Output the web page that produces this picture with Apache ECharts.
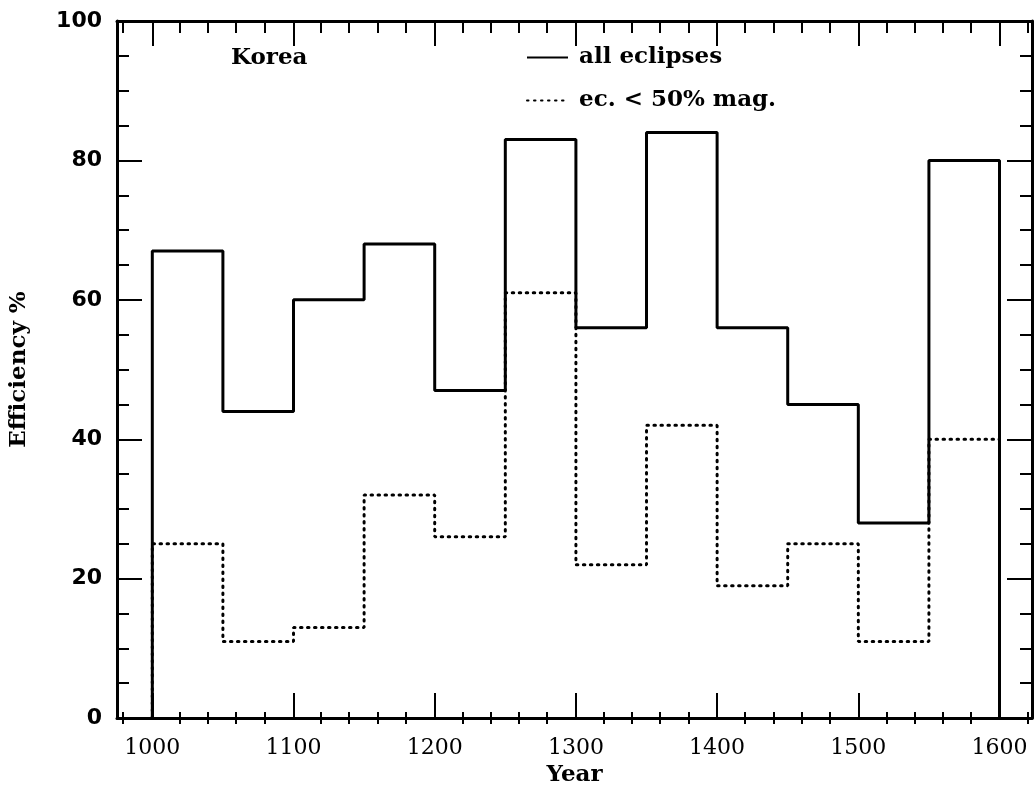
<!DOCTYPE html>
<html>
<head>
<meta charset="utf-8">
<script src="https://cdn.jsdelivr.net/npm/echarts@6/dist/echarts.min.js"></script>
<style>
html,body{margin:0;padding:0;background:#fff;}
#chart{width:1036px;height:792px;}
</style>
</head>
<body>
<div id="chart"></div>
<script>
// Bin starts (years), bin width 50
var binStarts = [1000, 1050, 1100, 1150, 1200, 1250, 1300, 1350, 1400, 1450, 1500, 1550];
var binWidth = 50;
var allEclipses = [67, 44, 60, 68, 47, 83, 56, 84, 56, 45, 28, 80];
var lowMag = [25, 11, 13, 32, 26, 61, 22, 42, 19, 25, 11, 40];
var xMajorTicks = [1000, 1100, 1200, 1300, 1400, 1500, 1600];
var xMinorTicks = [980, 1020, 1040, 1060, 1080, 1120, 1140, 1160, 1180, 1220, 1240, 1260, 1280,
                   1320, 1340, 1360, 1380, 1420, 1440, 1460, 1480, 1520, 1540, 1560, 1580, 1620];
var seriesNames = ['all eclipses', 'ec. < 50% mag.'];

function stepData(vals) {
  var d = [[binStarts[0], 0]];
  for (var i = 0; i < binStarts.length; i++) d.push([binStarts[i], vals[i]]);
  var lastEnd = binStarts[binStarts.length - 1] + binWidth;
  d.push([lastEnd, vals[vals.length - 1]]);
  d.push([lastEnd, 0]);
  return d;
}

var chart = echarts.init(document.getElementById('chart'));
var gridRect = {left: 116, top: 21, width: 916, height: 703};
var XMIN = 975, XMAX = 1623;
var lineW = 3;
var serif = 'DejaVu Serif';
var sans = 'DejaVu Sans';

function xAx(gridIndex, pos, ticks, len, labels, showLine) {
  return {
    type: 'value', gridIndex: gridIndex, position: pos, min: XMIN, max: XMAX,
    axisLine: {show: showLine, onZero: false, lineStyle: {color: '#000', width: lineW}},
    axisTick: {show: true, inside: true, length: len, customValues: ticks, lineStyle: {color: '#000', width: 2}},
    axisLabel: labels ? {
      show: true, customValues: xMajorTicks, color: '#000', fontFamily: serif, fontSize: 22, margin: 19,
      formatter: function (v) { return String(v); }
    } : {show: false},
    splitLine: {show: false}
  };
}

var option = {
  animation: false,
  backgroundColor: '#fff',
  title: {
    text: 'Korea', left: 226, top: 42,
    textStyle: {fontFamily: serif, fontSize: 23, fontWeight: 'bold', color: '#000'}
  },
  legend: {
    orient: 'vertical', left: 521, top: 41, itemGap: 20,
    itemWidth: 41, itemHeight: 14,
    itemStyle: {opacity: 0},
    textStyle: {fontFamily: serif, fontSize: 23, fontWeight: 'bold', color: '#000', padding: [0, 0, 0, 6]},
    data: seriesNames
  },
  grid: [
    Object.assign({}, gridRect),
    Object.assign({}, gridRect)
  ],
  xAxis: [
    Object.assign(xAx(0, 'bottom', xMajorTicks, 25, true, true), {
      name: 'Year', nameLocation: 'middle', nameGap: 44,
      nameTextStyle: {fontFamily: serif, fontSize: 23, fontWeight: 'bold', color: '#000'}
    }),
    xAx(0, 'top', xMajorTicks, 25, false, true),
    xAx(1, 'bottom', xMinorTicks, 12, false, false),
    xAx(1, 'top', xMinorTicks, 12, false, false)
  ],
  yAxis: [
    {
      type: 'value', gridIndex: 0, position: 'left', min: 0, max: 100, interval: 20,
      name: 'Efficiency %', nameLocation: 'middle', nameGap: 86,
      nameTextStyle: {fontFamily: serif, fontSize: 23, fontWeight: 'bold', color: '#000'},
      axisLine: {show: true, onZero: false, lineStyle: {color: '#000', width: lineW}},
      axisTick: {show: true, inside: true, length: 25, lineStyle: {color: '#000', width: 2}},
      minorTick: {show: true, splitNumber: 4, length: 12, lineStyle: {color: '#000', width: 2}},
      axisLabel: {show: true, color: '#000', fontFamily: sans, fontSize: 22, fontWeight: 'bold', margin: 15},
      splitLine: {show: false}, minorSplitLine: {show: false}
    },
    {
      type: 'value', gridIndex: 0, position: 'right', min: 0, max: 100, interval: 20,
      axisLine: {show: true, onZero: false, lineStyle: {color: '#000', width: lineW}},
      axisTick: {show: true, inside: true, length: 25, lineStyle: {color: '#000', width: 2}},
      minorTick: {show: true, splitNumber: 4, length: 12, lineStyle: {color: '#000', width: 2}},
      axisLabel: {show: false},
      splitLine: {show: false}, minorSplitLine: {show: false}
    },
    {type: 'value', gridIndex: 1, min: 0, max: 100, show: false}
  ],
  series: [
    {
      name: seriesNames[0], type: 'line', xAxisIndex: 0, yAxisIndex: 0,
      step: 'end', symbol: 'none', showSymbol: false,
      lineStyle: {color: '#000', width: 3, type: 'solid'},
      itemStyle: {color: '#000'},
      data: stepData(allEclipses), z: 3
    },
    {
      name: seriesNames[1], type: 'line', xAxisIndex: 0, yAxisIndex: 0,
      step: 'end', symbol: 'none', showSymbol: false,
      lineStyle: {color: '#000', width: 3, type: [1.5, 5.5], cap: 'round'},
      itemStyle: {color: '#000'},
      data: stepData(lowMag), z: 2
    }
  ]
};
chart.setOption(option);
</script>
</body>
</html>
